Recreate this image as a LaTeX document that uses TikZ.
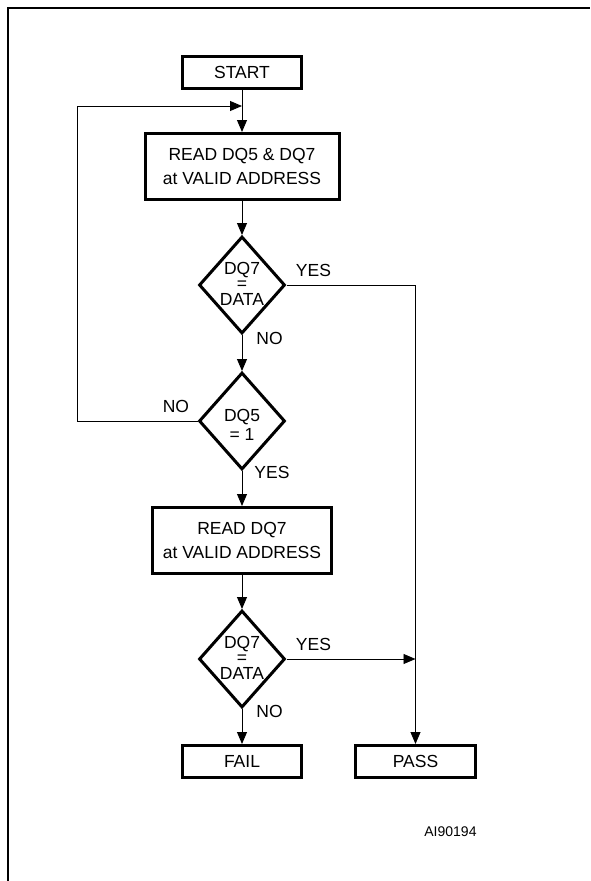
\documentclass[tikz,border=0pt]{standalone}
\usepackage{fontspec}
\setmainfont{Liberation Sans}
\usetikzlibrary{arrows.meta,shapes.geometric,positioning}
\tikzstyle{block}=[draw,line width=3pt,inner sep=0pt,align=center,font=\fontsize{17.5}{23.3}\selectfont]
\tikzstyle{decision}=[draw,diamond,line width=3pt,inner sep=0pt,minimum width=86pt,minimum height=97pt]
\tikzstyle{cond}=[inner sep=0pt,align=center]
\tikzstyle{lbl}=[inner sep=0pt,font=\fontsize{17.5}{21}\selectfont]
\tikzstyle{every edge}=[draw,line width=0.9pt,>={Triangle[length=12pt,width=10pt]}]

\begin{document}
\begin{tikzpicture}[x=1pt,y=1pt,line width=0.9pt,>={Triangle[length=12pt,width=10pt]}]
  \useasboundingbox (0,0) rectangle (590,-881);
  \draw[line width=2pt] (7.8,-881) -- (7.8,-8) -- (590,-8);

  \node[block,minimum width=119pt,minimum height=32pt] (start) at (242,-72.5) {START};
  \node[block,minimum width=194pt,minimum height=66pt] (reada) [node distance=94pt,below of=start] {READ DQ5 \& DQ7\\at VALID ADDRESS};
  \node[decision] (dqa) [node distance=118.5pt,below of=reada] {};
  \node[decision] (dqb) [node distance=136pt,below of=dqa] {};
  \node[block,minimum width=179pt,minimum height=66pt] (readb) [node distance=119.5pt,below of=dqb] {READ DQ7\\at VALID ADDRESS};
  \node[decision] (dqc) [node distance=118.5pt,below of=readb] {};
  \node[block,minimum width=119pt,minimum height=32pt] (fail) [node distance=102.5pt,below of=dqc] {FAIL};
  \node[block,minimum width=120pt,minimum height=32pt] (pass) [node distance=173.5pt,right of=fail] {PASS};
  \coordinate (join) at ([yshift=-33.5pt]start.center);

  \node[cond,font=\fontsize{17.5}{15.5}\selectfont] (dqat) at ([yshift=1.5pt]dqa.center) {DQ7\\=\\DATA};
  \node[cond,font=\fontsize{17.5}{19}\selectfont] (dqbt) at ([yshift=-3.5pt]dqb.center) {DQ5\\= 1};
  \node[cond,font=\fontsize{17.5}{15.5}\selectfont] (dqct) at ([yshift=1.5pt]dqc.center) {DQ7\\=\\DATA};

  \path[->] (start) edge (reada)
	(reada) edge (dqa)
	(dqa) edge (dqb)
	(dqb) edge (readb)
	(readb) edge (dqc)
	(dqc) edge (fail)
	(dqc) edge (pass.north |- dqc.east);
  \draw[->] (dqa.east) -| (pass.north);
  \draw[->] (dqb.west) -- ++(-120,0) |- (join);

  \node[lbl,anchor=south west] (yesa) at ([shift={(9,8)}]dqa.east) {YES};
  \node[lbl,anchor=west] (noa) at ([shift={(14,-3)}]dqa.south) {NO};
  \node[lbl,anchor=south east] (nob) at ([shift={(-8,8)}]dqb.west) {NO};
  \node[lbl,anchor=west] (yesb) at ([shift={(12,-1)}]dqb.south) {YES};
  \node[lbl,anchor=south west] (yesc) at ([shift={(9,8)}]dqc.east) {YES};
  \node[lbl,anchor=west] (noc) at ([shift={(14,-2)}]dqc.south) {NO};
  \node[lbl,anchor=east,font=\fontsize{14}{16}\selectfont] (code) at ([yshift=-70.5pt]pass.east) {AI90194};
\end{tikzpicture}
\end{document}
